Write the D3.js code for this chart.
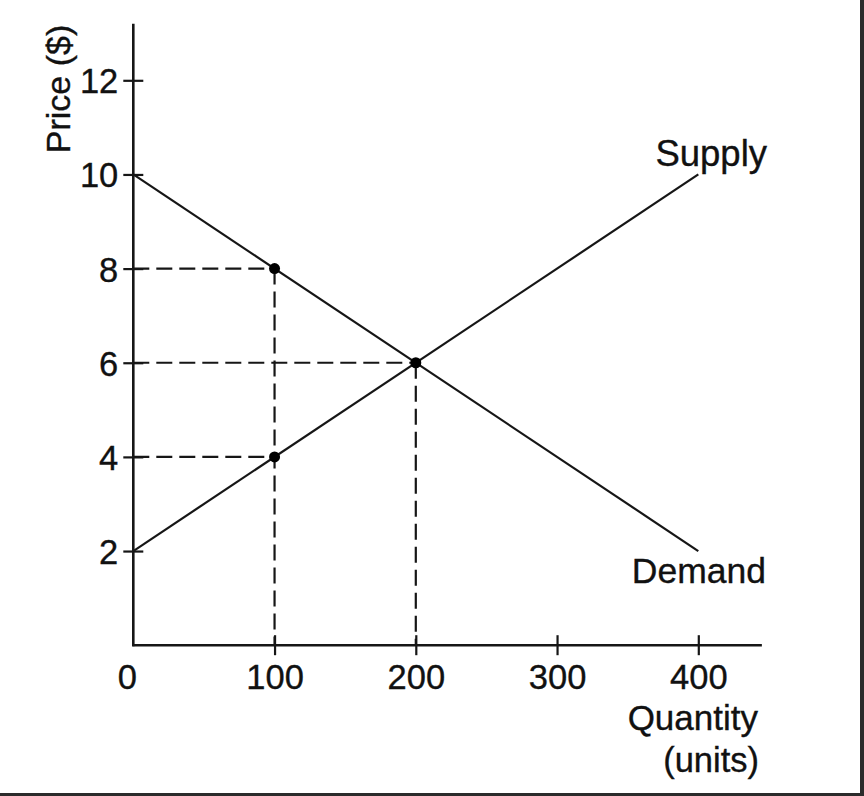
<!DOCTYPE html>
<html>
<head>
<meta charset="utf-8">
<script src="https://cdn.jsdelivr.net/npm/d3@7"></script>
<style>
  html, body { margin: 0; padding: 0; background: #fff; }
  svg { display: block; }
  text { font-family: "Liberation Sans", Arial, Helvetica, sans-serif; fill: #111; stroke: #111; stroke-width: 0.35px; }
</style>
</head>
<body>
<svg id="chart" width="864" height="796"></svg>
<script>
// ---- data ----
const xTicks = [100, 200, 300, 400];
const yTicks = [2, 4, 6, 8, 10, 12];
const supplyQ = [0, 400];
const supplyP = [2, 10];
const demandQ = [0, 400];
const demandP = [10, 2];
const pointQ = [100, 200, 100];
const pointP = [8, 6, 4];
const dropQ = [100, 200];   // vertical guides
const dropP = [8, 6];

const svg = d3.select("#chart");
const ink = "#161616";

const x = d3.scaleLinear().domain([0, 400]).range([133.3, 698.3]);
const y = d3.scaleLinear().domain([0, 12]).range([645.2, 80.3]);

// frame (right and bottom edge)
svg.append("rect").attr("x", 860).attr("y", 0).attr("width", 4).attr("height", 796).attr("fill", "#2b2b2b");
svg.append("rect").attr("x", 0).attr("y", 793).attr("width", 864).attr("height", 3).attr("fill", "#2b2b2b");

// dashed guides
const dash = "16,7";
const g = svg.append("g");
pointQ.forEach((q, i) => {
  g.append("line")
    .attr("x1", x(0)).attr("x2", x(q))
    .attr("y1", y(pointP[i])).attr("y2", y(pointP[i]))
    .attr("stroke", ink).attr("stroke-width", 2.2).attr("stroke-dasharray", dash);
});
dropQ.forEach((q, i) => {
  g.append("line")
    .attr("x1", x(q)).attr("x2", x(q))
    .attr("y1", y(dropP[i])).attr("y2", y(0))
    .attr("stroke", ink).attr("stroke-width", 2.2).attr("stroke-dasharray", dash);
});

// axes
const yAxis = d3.axisLeft(y).tickValues(yTicks).tickSize(10).tickPadding(5);
const yG = svg.append("g").attr("transform", `translate(${x(0)},0)`).call(yAxis);
yG.attr("font-size", null).attr("font-family", null);
yG.select(".domain").remove();
yG.selectAll(".tick line").attr("x1", -10).attr("x2", 10).attr("stroke", ink).attr("stroke-width", 2.2);
yG.selectAll(".tick text").attr("font-size", 34.5).attr("x", -15).attr("dy", "0.36em").attr("fill", null);

const xAxis = d3.axisBottom(x).tickValues(xTicks).tickSize(10);
const xG = svg.append("g").attr("transform", `translate(0,${y(0)})`).call(xAxis);
xG.attr("font-size", null).attr("font-family", null);
xG.select(".domain").remove();
xG.selectAll(".tick line").attr("y1", -10).attr("y2", 10).attr("stroke", ink).attr("stroke-width", 2.2);
xG.selectAll(".tick text").attr("font-size", 34.5).attr("y", 44).attr("dy", 0).attr("fill", null);

// axis lines
svg.append("line").attr("x1", x(0)).attr("x2", x(0)).attr("y1", y(0) + 1).attr("y2", y(13.2))
  .attr("stroke", ink).attr("stroke-width", 2.6);
svg.append("line").attr("x1", x(0) - 1).attr("x2", x(445)).attr("y1", y(0)).attr("y2", y(0))
  .attr("stroke", ink).attr("stroke-width", 2.6);

svg.append("text").attr("x", x(0) - 6).attr("y", y(0) + 44).attr("text-anchor", "middle")
  .attr("font-size", 34.5).text("0");

// supply & demand lines
const line = d3.line().x(d => x(d[0])).y(d => y(d[1]));
svg.append("path").datum(supplyQ.map((q, i) => [q, supplyP[i]])).attr("d", line)
  .attr("fill", "none").attr("stroke", ink).attr("stroke-width", 2.2);
svg.append("path").datum(demandQ.map((q, i) => [q, demandP[i]])).attr("d", line)
  .attr("fill", "none").attr("stroke", ink).attr("stroke-width", 2.2);

// points
svg.selectAll("circle.pt").data(pointQ.map((q, i) => [q, pointP[i]])).enter()
  .append("circle").attr("class", "pt")
  .attr("cx", d => x(d[0])).attr("cy", d => y(d[1])).attr("r", 5.5).attr("fill", "#000");

// labels
svg.append("text").attr("x", 767).attr("y", 166).attr("text-anchor", "end").attr("font-size", 36.5).text("Supply");
svg.append("text").attr("x", 766).attr("y", 583).attr("text-anchor", "end").attr("font-size", 35.5).text("Demand");
svg.append("text").attr("x", 758).attr("y", 730).attr("text-anchor", "end").attr("font-size", 35).text("Quantity");
svg.append("text").attr("x", 759).attr("y", 772).attr("text-anchor", "end").attr("font-size", 34.5).text("(units)");
svg.append("text").attr("transform", "translate(70,89) rotate(-90)").attr("text-anchor", "middle")
  .attr("font-size", 34).text("Price ($)");
</script>
</body>
</html>
